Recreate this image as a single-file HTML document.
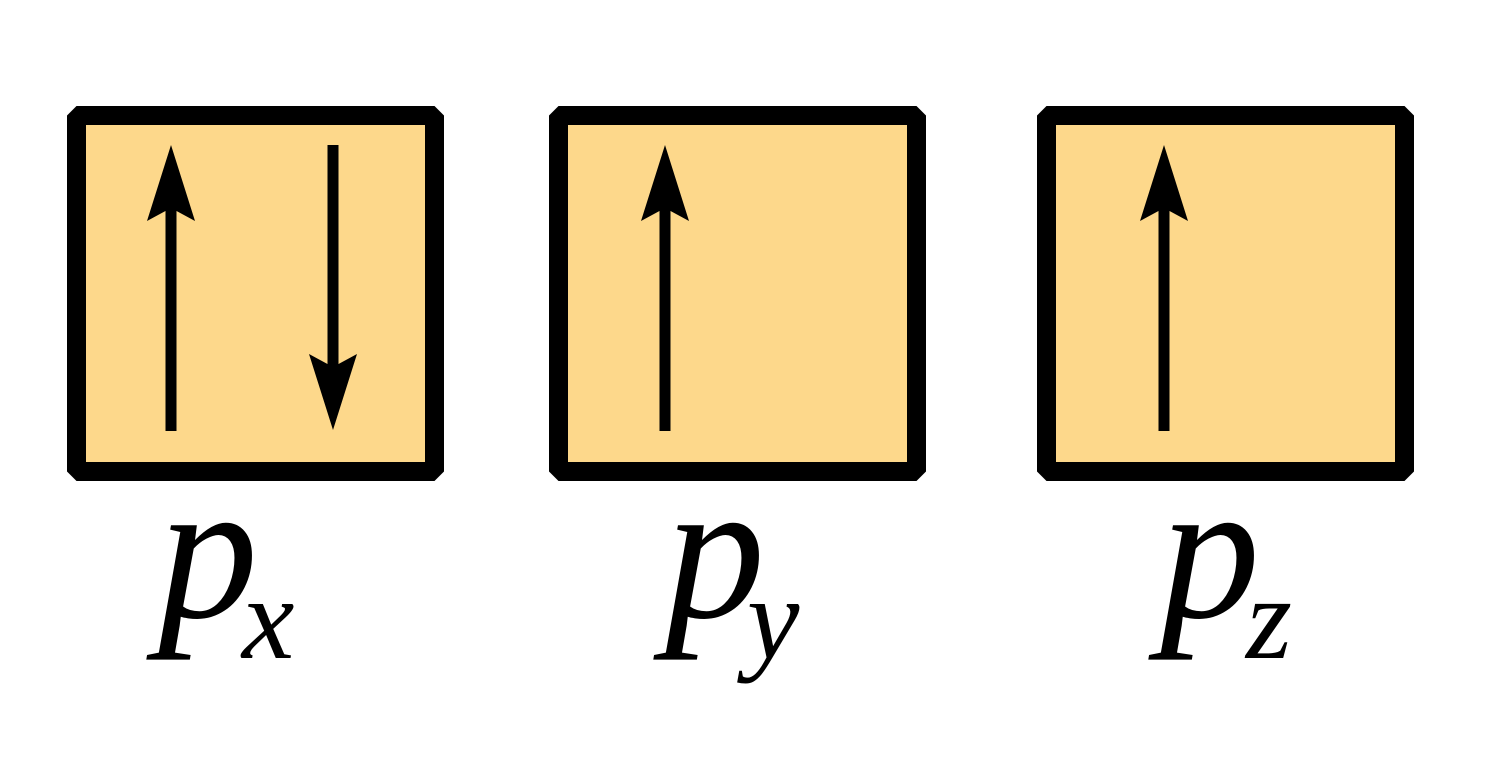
<!DOCTYPE html>
<html><head><meta charset="utf-8"><style>
html,body{margin:0;padding:0;background:#fff;}
svg{display:block;}
text{font-family:"Liberation Serif",serif;font-style:italic;fill:#000;}
</style></head><body>
<svg width="1497" height="766" viewBox="0 0 1497 766" xmlns="http://www.w3.org/2000/svg">
<g stroke="#000" stroke-width="19" fill="#FDD88B" stroke-linejoin="bevel">
<rect x="76.5" y="115.5" width="358" height="356"/>
<rect x="558.5" y="115.5" width="358" height="356"/>
<rect x="1046.5" y="115.5" width="358" height="356"/>
</g>
<g fill="#000">
<rect x="165.5" y="205" width="11" height="226"/>
<polygon points="171,145 195,221 171,208 147,221"/>
<rect x="327.5" y="145" width="11" height="225"/>
<polygon points="333,430 357,354 333,367 309,354"/>
<rect x="659.5" y="205" width="11" height="226"/>
<polygon points="665,145 689,221 665,208 641,221"/>
<rect x="1158.5" y="205" width="11" height="226"/>
<polygon points="1164,145 1188,221 1164,208 1140,221"/>
</g>
<text x="158" y="617" font-size="200" textLength="112">p</text>
<text x="242" y="658" font-size="118">x</text>
<text x="665" y="617" font-size="200" textLength="112">p</text>
<text x="747" y="658" font-size="118">y</text>
<text x="1160" y="617" font-size="200" textLength="112">p</text>
<text x="1246" y="658" font-size="118">z</text>
</svg>
</body></html>
